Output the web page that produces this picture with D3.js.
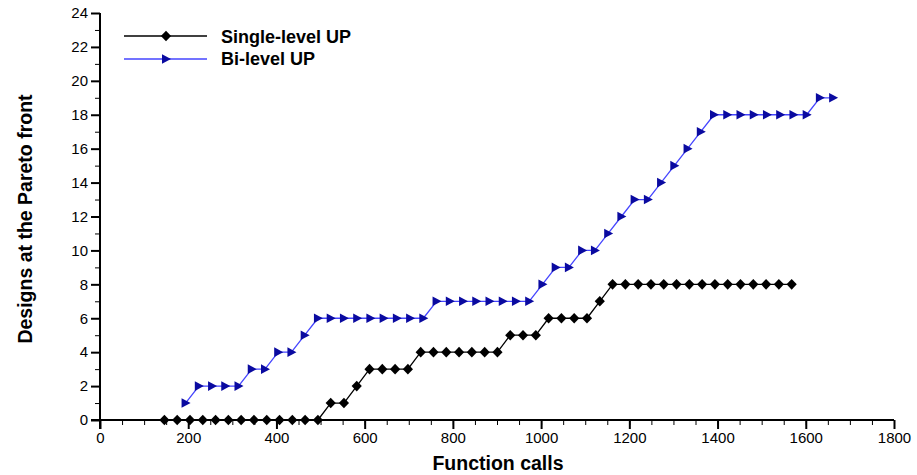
<!DOCTYPE html>
<html>
<head>
<meta charset="utf-8">
<script src="https://cdn.jsdelivr.net/npm/d3@7"></script>
<style>
  body { margin: 0; background: #fff; }
  svg { font-family: "Liberation Sans", Arial, sans-serif; }
</style>
</head>
<body>
<svg id="chart" width="917" height="475"></svg>
<script>
// single-level UP (black diamonds)
var singleX = [146, 175, 204, 233, 262, 291, 320, 349, 378, 407, 436, 465, 494,
  523, 553, 582, 611, 640, 669, 698, 727, 756, 785, 814, 843, 872, 901, 930, 959,
  988, 1017, 1046, 1075, 1104, 1133, 1162, 1191, 1220, 1249, 1278, 1307, 1336,
  1365, 1394, 1423, 1452, 1481, 1510, 1539, 1568];
var singleY = [0, 0, 0, 0, 0, 0, 0, 0, 0, 0, 0, 0, 0,
  1, 1, 2, 3, 3, 3, 3, 4, 4, 4, 4, 4, 4, 4, 5, 5, 5, 6, 6, 6, 6, 7,
  8, 8, 8, 8, 8, 8, 8, 8, 8, 8, 8, 8, 8, 8, 8];

// bi-level UP (blue triangles)
var biX = [194, 224, 254, 284, 314, 344, 374, 404, 434, 464, 494, 523, 553,
  583, 613, 643, 673, 703, 733, 763, 793, 823, 853, 883, 913, 943, 973, 1003,
  1033, 1063, 1093, 1122, 1152, 1182, 1212, 1242, 1272, 1302, 1332, 1362, 1392,
  1422, 1452, 1482, 1512, 1542, 1572, 1602, 1632, 1662];
var biY = [1, 2, 2, 2, 2, 3, 3, 4, 4, 5, 6, 6, 6, 6, 6, 6, 6, 6, 6,
  7, 7, 7, 7, 7, 7, 7, 7, 8, 9, 9, 10, 10, 11, 12, 13, 13, 14, 15, 16, 17,
  18, 18, 18, 18, 18, 18, 18, 18, 19, 19];

var xTicks = [0, 200, 400, 600, 800, 1000, 1200, 1400, 1600, 1800];
var yTicks = [0, 2, 4, 6, 8, 10, 12, 14, 16, 18, 20, 22, 24];

var svg = d3.select('#chart');
var plot = {left: 100, right: 894, top: 13, bottom: 420};

var x = d3.scaleLinear().domain([0, 1800]).range([plot.left, plot.right]);
var y = d3.scaleLinear().domain([0, 24]).range([plot.bottom, plot.top]);

// x axis: minor ticks then major ticks with labels
svg.append('g').attr('transform', 'translate(0,' + plot.bottom + ')')
  .call(d3.axisBottom(x).tickValues(d3.range(0, 1801, 50)).tickSize(5).tickFormat(''))
  .call(function (g) { g.select('.domain').remove(); g.selectAll('line').attr('stroke-width', 1); });
svg.append('g').attr('transform', 'translate(0,' + plot.bottom + ')')
  .call(d3.axisBottom(x).tickValues(xTicks).tickSize(9).tickSizeOuter(0).tickPadding(3).tickFormat(d3.format('d')))
  .call(function (g) {
    g.select('.domain').attr('d', 'M' + (plot.left - 9) + ',0H' + plot.right).attr('stroke-width', 2);
    g.selectAll('line').attr('stroke-width', 2);
    g.selectAll('text').attr('font-size', 15).attr('fill', '#000');
  });

// y axis
svg.append('g').attr('transform', 'translate(' + plot.left + ',0)')
  .call(d3.axisLeft(y).tickValues(d3.range(1, 24, 2)).tickSize(5).tickFormat(''))
  .call(function (g) { g.select('.domain').remove(); g.selectAll('line').attr('stroke-width', 1); });
svg.append('g').attr('transform', 'translate(' + plot.left + ',0)')
  .call(d3.axisLeft(y).tickValues(yTicks).tickSize(9).tickSizeOuter(0).tickPadding(3))
  .call(function (g) {
    g.select('.domain').attr('d', 'M0,' + plot.top + 'V' + (plot.bottom + 9)).attr('stroke-width', 2);
    g.selectAll('line').attr('stroke-width', 2);
    g.selectAll('text').attr('font-size', 15).attr('fill', '#000');
  });

// axis titles
svg.append('text').attr('x', 498).attr('y', 470)
  .attr('text-anchor', 'middle').attr('font-size', 19.5).attr('font-weight', 'bold')
  .text('Function calls');
svg.append('text').attr('transform', 'translate(32,219) rotate(-90)')
  .attr('text-anchor', 'middle').attr('font-size', 19.5).attr('font-weight', 'bold')
  .text('Designs at the Pareto front');

var diamond = 'M0,-5.3L5.1,0L0,5.3L-5.1,0Z';
var triangle = 'M-4,-4.8L5,0L-4,4.8Z';

function drawSeries(xs, ys, lineColor, lineWidth) {
  var pts = xs.map(function (v, i) { return [x(v), y(ys[i])]; });
  svg.append('path').attr('d', d3.line()(pts))
    .attr('fill', 'none').attr('stroke', lineColor).attr('stroke-width', lineWidth);
  return pts;
}

var sPts = drawSeries(singleX, singleY, '#000', 1.3);
svg.append('g').selectAll('path').data(sPts).enter().append('path')
  .attr('d', diamond).attr('fill', '#000')
  .attr('transform', function (d) { return 'translate(' + d[0] + ',' + d[1] + ')'; });

var bPts = drawSeries(biX, biY, '#4545ff', 1.3);
svg.append('g').selectAll('path').data(bPts).enter().append('path')
  .attr('d', triangle).attr('fill', '#0a0aa0')
  .attr('transform', function (d) { return 'translate(' + d[0] + ',' + d[1] + ')'; });

// legend
var legend = svg.append('g');
legend.append('line').attr('x1', 124).attr('x2', 207).attr('y1', 36).attr('y2', 36)
  .attr('stroke', '#000').attr('stroke-width', 1.3);
legend.append('path').attr('d', diamond).attr('fill', '#000').attr('transform', 'translate(166,36)');
legend.append('text').attr('x', 221).attr('y', 43).attr('font-size', 18).attr('font-weight', 'bold')
  .text('Single-level UP');
legend.append('line').attr('x1', 124).attr('x2', 207).attr('y1', 59).attr('y2', 59)
  .attr('stroke', '#4545ff').attr('stroke-width', 1.3);
legend.append('path').attr('d', triangle).attr('fill', '#0a0aa0').attr('transform', 'translate(166,59)');
legend.append('text').attr('x', 221).attr('y', 65).attr('font-size', 18).attr('font-weight', 'bold')
  .text('Bi-level UP');
</script>
</body>
</html>
